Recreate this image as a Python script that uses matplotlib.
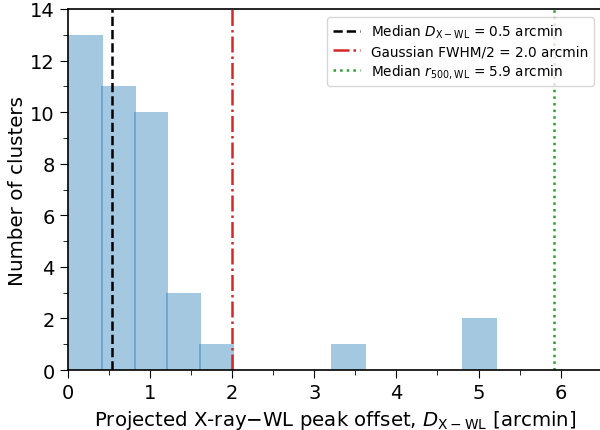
import matplotlib
matplotlib.use("Agg")
import matplotlib.pyplot as plt
from matplotlib.ticker import MultipleLocator

# histogram counts (bin width 0.4 arcmin)
bin_edges = [0.0, 0.4, 0.8, 1.2, 1.6, 2.0, 2.4, 2.8, 3.2, 3.6, 4.0, 4.4, 4.8, 5.2]
counts = [13, 11, 10, 3, 1, 0, 0, 0, 1, 0, 0, 0, 2]

median_offset = 0.54
fwhm_half = 2.0
median_r500 = 5.92

fig = plt.figure(figsize=(6, 4.31), dpi=100)
ax = fig.add_axes([0.113, 0.139, 0.89, 0.838])

ax.bar(bin_edges[:-1], counts, width=0.425, align='edge', color='tab:blue', alpha=0.4)

ax.axvline(median_offset, color='k', ls='--', lw=1.8,
           label=r'Median $D_{\rm X-WL}$ = 0.5 arcmin')
ax.axvline(fwhm_half, color='tab:red', ls='-.', lw=1.8,
           label='Gaussian FWHM/2 = 2.0 arcmin')
ax.axvline(median_r500, color='tab:green', ls=':', lw=1.8,
           label=r'Median $r_{500,\rm WL}$ = 5.9 arcmin')

ax.set_xlim(0, 6.5)
ax.set_ylim(0, 14)
ax.xaxis.set_major_locator(MultipleLocator(1))
ax.xaxis.set_minor_locator(MultipleLocator(0.5))
ax.yaxis.set_major_locator(MultipleLocator(2))
ax.yaxis.set_minor_locator(MultipleLocator(1))
ax.tick_params(which='major', length=6, labelsize=14)
ax.tick_params(which='minor', length=3.5)
for s in ax.spines.values():
    s.set_linewidth(1.2)

ax.set_xlabel(r'Projected X-ray$-$WL peak offset, $D_{\rm X-WL}$ [arcmin]', fontsize=14.2)
ax.set_ylabel('Number of clusters', fontsize=14.3, labelpad=2)
ax.legend(loc='upper right', fontsize=9.8, borderaxespad=0.6, labelspacing=0.3)

fig.savefig('out.png', dpi=100)
